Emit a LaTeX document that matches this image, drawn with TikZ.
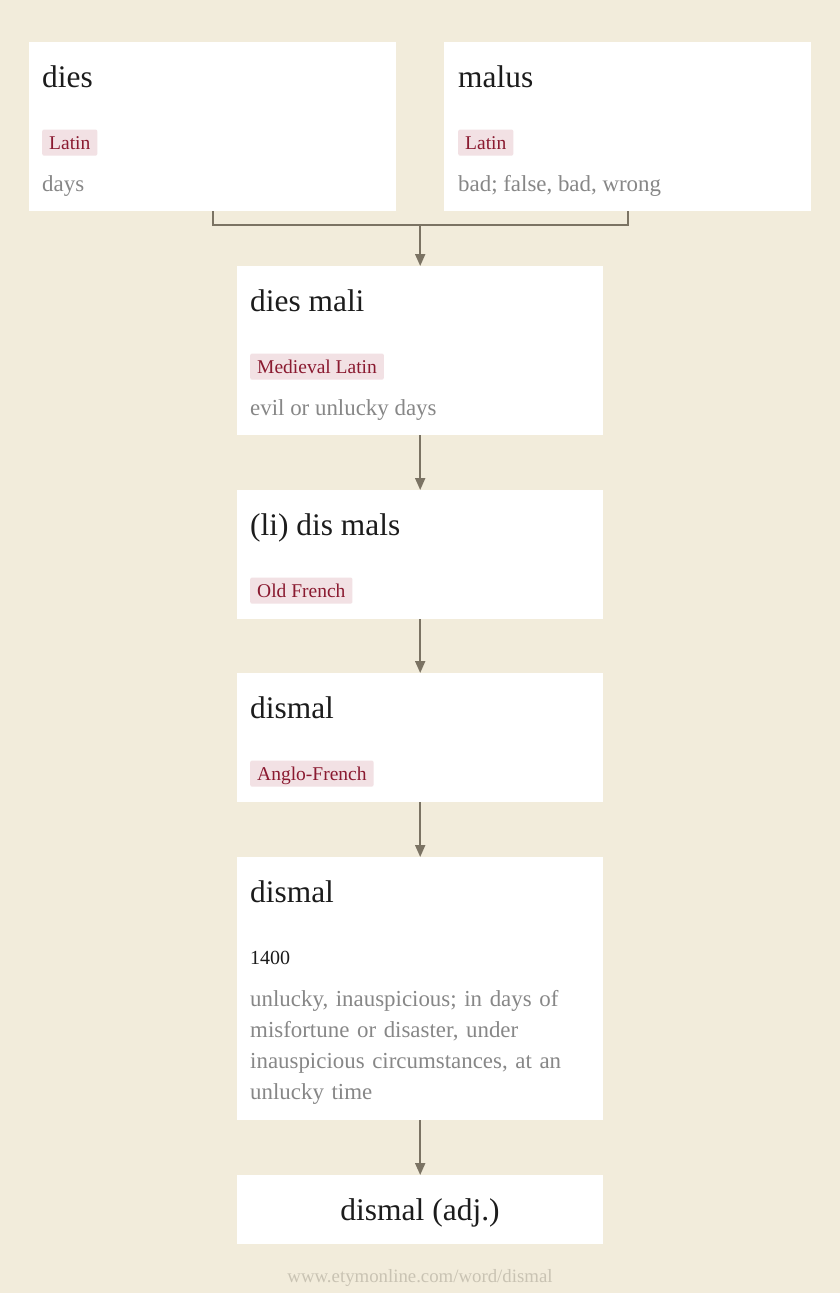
\documentclass[tikz,border=0pt]{standalone}
\usepackage{fontspec}
\setmainfont{Liberation Serif}
\usetikzlibrary{arrows.meta}
\definecolor{bgc}{HTML}{F2ECDB}
\definecolor{headc}{HTML}{1C1C1C}
\definecolor{tagtxt}{HTML}{8A1A30}
\definecolor{tagbg}{HTML}{F2E1E4}
\definecolor{glossc}{HTML}{878787}
\definecolor{linec}{HTML}{7B7363}
\definecolor{footc}{HTML}{C9C3B3}
\begin{document}
\begin{tikzpicture}[x=1pt,y=-1pt,
  box/.style={fill=white,draw=none,anchor=north west,inner sep=0,minimum width=367pt},
  mbox/.style={box,minimum width=366pt},
  head/.style={anchor=base west,inner sep=0,text=headc,font=\fontsize{31.4pt}{36pt}\selectfont},
  tag/.style={anchor=base west,fill=tagbg,text=tagtxt,rounded corners=2pt,inner xsep=7pt,inner ysep=4pt,text height=15.5pt,text depth=2.7pt,font=\fontsize{19.5pt}{23pt}\selectfont},
  gloss/.style={anchor=base west,inner sep=0,text=glossc,font=\fontsize{22.9pt}{31.3pt}\selectfont},
  conn/.style={draw=linec,line width=2pt},
  arr/.style={conn,-{Triangle[length=12pt,width=10pt]}}]
\fill[bgc] (0,0) rectangle (840,1293);
\useasboundingbox (0,0) rectangle (840,1293);
% boxes
\node[box,minimum height=169pt] (b1) at (29,42) {};
\node[box,minimum height=169pt] (b2) at (444,42) {};
\node[mbox,minimum height=169pt] (b3) at (237,266) {};
\node[mbox,minimum height=129pt] (b4) at (237,490) {};
\node[mbox,minimum height=129pt] (b5) at (237,673) {};
\node[mbox,minimum height=263pt] (b6) at (237,857) {};
\node[mbox,minimum height=69pt] (b7) at (237,1175) {};
% box 1
\node[head] (h1) at (42,87) {dies};
\node[tag] (t1) at (42,149) {Latin};
\node[gloss] (g1) at (42,191) {days};
% box 2
\node[head] (h2) at (458,87) {malus};
\node[tag] (t2) at (458,149) {Latin};
\node[gloss] (g2) at (458,191) {bad; false, bad, wrong};
% box 3
\node[head] (h3) at (250,311) {dies mali};
\node[tag] (t3) at (250,373) {Medieval Latin};
\node[gloss] (g3) at (250,415) {evil or unlucky days};
% box 4
\node[head] (h4) at (250,535) {(li) dis mals};
\node[tag] (t4) at (250,597) {Old French};
% box 5
\node[head] (h5) at (250,718) {dismal};
\node[tag] (t5) at (250,780) {Anglo-French};
% box 6
\node[head] (h6) at (250,902) {dismal};
\node[anchor=base west,inner sep=0,text=headc,font=\fontsize{20pt}{24pt}\selectfont] (d6) at (250,964) {1400};
\node[gloss,text width=345pt,align=left] (g6) at (250,1006) {unlucky, inauspicious; in days of\\misfortune or disaster, under\\inauspicious circumstances, at an\\unlucky time};
% box 7
\node[anchor=base,inner sep=0,text=headc,font=\fontsize{31.5pt}{36pt}\selectfont] (h7) at (420,1220) {dismal (adj.)};
% footer
\node[anchor=base,inner sep=0,text=footc,font=\fontsize{18.8pt}{22pt}\selectfont] (foot) at (420,1282) {www.etymonline.com/word/dismal};
% connectors
\path (b1.south) ++(0,14) coordinate (jl);
\coordinate (j) at (b3.north |- jl);
\draw[conn] (b1.south) |- (j) -| (b2.south);
\draw[arr] (j) -- (b3.north);
\draw[arr] (b3.south) -- (b4.north);
\draw[arr] (b4.south) -- (b5.north);
\draw[arr] (b5.south) -- (b6.north);
\draw[arr] (b6.south) -- (b7.north);
\end{tikzpicture}
\end{document}
